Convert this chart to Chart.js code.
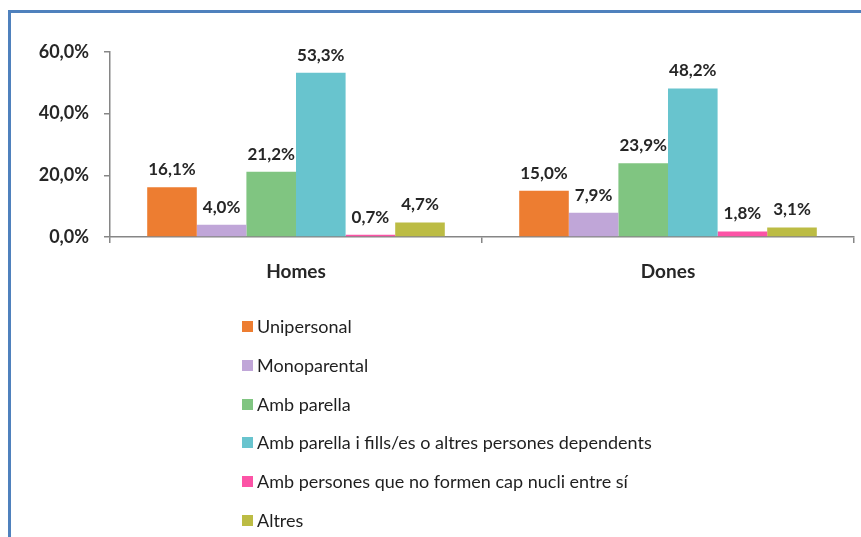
<!DOCTYPE html>
<html lang="ca">
<head>
  <meta charset="UTF-8">
  <title>Tipus de llar</title>
  <script src="https://cdn.jsdelivr.net/npm/chart.js"></script>
  <style>
    html, body { margin: 0; padding: 0; background: #fff; }
    #wrap { position: relative; width: 861px; height: 537px; overflow: hidden; }
    #frame { position: absolute; left: 8px; top: 10px; right: -10px; bottom: -10px;
             border-top: 3px solid #4f81bd; border-left: 3px solid #4f81bd; }
    #chart { position: absolute; left: 0; top: 0; }
    #legend { position: absolute; left: 242px; top: 315px; font-family: Lato, sans-serif;
              font-size: 18px; color: #1f1f1f; }
    #legend div { height: 38.8px; display: flex; align-items: flex-start; }
    #legend span.box { display: inline-block; width: 11px; height: 11px; margin: 6px 4px 0 0; }
  </style>
</head>
<body>
<div id="wrap">
  <div id="frame"></div>
  <canvas id="chart" width="861" height="537"></canvas>
  <div id="legend"></div>
</div>

<script>
  // categories and series
  const categories = ['Homes', 'Dones'];
  const seriesNames = [
    'Unipersonal',
    'Monoparental',
    'Amb parella',
    'Amb parella i fills/es o altres persones dependents',
    'Amb persones que no formen cap nucli entre sí',
    'Altres'
  ];
  const unipersonal  = [16.1, 15.0];
  const monoparental = [4.0, 7.9];
  const ambParella   = [21.2, 23.9];
  const ambFills     = [53.3, 48.2];
  const ambPersones  = [0.7, 1.8];
  const altres       = [4.7, 3.1];
  const yTicks = [0, 20, 40, 60];

  const colors = ['#ed7d31', '#c0a6d8', '#80c581', '#68c4ce', '#fc53a6', '#bcbc44'];
  const values = [unipersonal, monoparental, ambParella, ambFills, ambPersones, altres];

  const fmt = v => v.toFixed(1).replace('.', ',') + '%';
  const txt = '#262626';

  // labels above bars
  const barLabels = {
    id: 'barLabels',
    afterDatasetsDraw(chart) {
      const c = chart.ctx;
      c.save();
      c.font = 'bold 17px Lato, sans-serif';
      c.fillStyle = txt;
      c.textAlign = 'center';
      c.textBaseline = 'bottom';
      chart.data.datasets.forEach((ds, i) => {
        chart.getDatasetMeta(i).data.forEach((bar, j) => {
          c.fillText(fmt(ds.data[j]), bar.x, bar.y - 9);
        });
      });
      c.restore();
    }
  };

  const chart = new Chart(document.getElementById('chart'), {
    type: 'bar',
    data: {
      labels: categories,
      datasets: seriesNames.map((name, i) => ({
        label: name,
        data: values[i],
        backgroundColor: colors[i],
        categoryPercentage: 0.8,
        barPercentage: 1.0
      }))
    },
    options: {
      responsive: false,
      animation: false,
      layout: { padding: { left: 0, top: 52, right: 7, bottom: 240 } },
      plugins: { legend: { display: false }, tooltip: { enabled: false } },
      scales: {
        x: {
          afterFit: s => { s.height = 60; },
          grid: { offset: true, drawOnChartArea: false, drawTicks: true, tickLength: 6, color: '#868686', lineWidth: 1.5 },
          border: { color: '#868686', width: 1.5 },
          ticks: { color: txt, padding: 17, font: { family: 'Lato, sans-serif', size: 19, weight: 'bold' } }
        },
        y: {
          min: 0, max: 60,
          afterFit: s => { s.width = 110; },
          afterBuildTicks: s => { s.ticks = yTicks.map(v => ({ value: v })); },
          grid: { drawOnChartArea: false, drawTicks: true, tickLength: 6, color: '#868686', lineWidth: 1.5 },
          border: { color: '#868686', width: 1.5 },
          ticks: { color: txt, padding: 15, callback: v => fmt(v),
                   font: { family: 'Lato, sans-serif', size: 18, weight: 'bold' } }
        }
      }
    },
    plugins: [barLabels]
  });

  // legend (one item per row)
  const legend = document.getElementById('legend');
  seriesNames.forEach((name, i) => {
    const row = document.createElement('div');
    const box = document.createElement('span');
    box.className = 'box';
    box.style.background = colors[i];
    row.appendChild(box);
    row.appendChild(document.createTextNode(name));
    legend.appendChild(row);
  });
</script>
</body>
</html>
